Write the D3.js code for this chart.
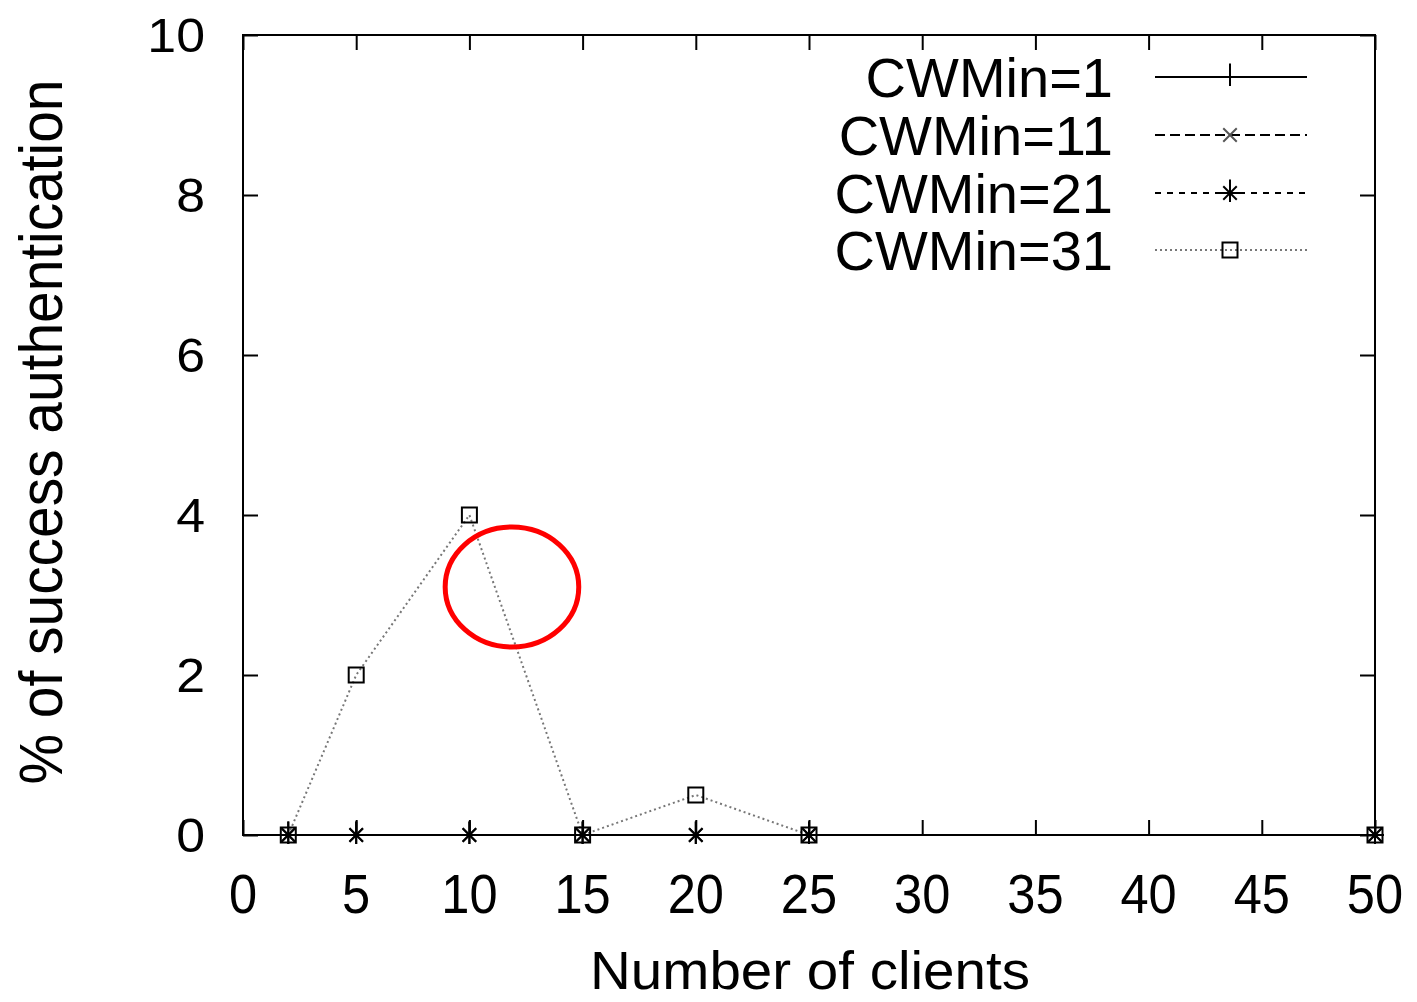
<!DOCTYPE html>
<html>
<head>
<meta charset="utf-8">
<script src="https://cdn.jsdelivr.net/npm/d3@7"></script>
<style>
  body { margin: 0; background: #fff; }
  text { font-family: "Liberation Sans", Arial, sans-serif; fill: #000; }
</style>
</head>
<body>
<script>
// data
var clients = [2, 5, 10, 15, 20, 25, 50];
var cw1  = [0, 0, 0, 0, 0, 0, 0];
var cw11 = [0, 0, 0, 0, 0, 0, 0];
var cw21 = [0, 0, 0, 0, 0, 0, 0];
var cw31 = [0, 2, 4, 0, 0.5, 0, 0];
var seriesNames = ["CWMin=1", "CWMin=11", "CWMin=21", "CWMin=31"];
var xTicks = [0, 5, 10, 15, 20, 25, 30, 35, 40, 45, 50];
var yTicks = [0, 2, 4, 6, 8, 10];

var outerWidth = 1417, outerHeight = 1002;
var margin = {top: 35, right: 42, bottom: 167, left: 243},
    width = outerWidth - margin.left - margin.right,
    height = outerHeight - margin.top - margin.bottom;

var x = d3.scaleLinear().domain([0, 50]).range([0, width]);
var y = d3.scaleLinear().domain([0, 10]).range([height, 0]);

var svg = d3.select("body").append("svg")
    .attr("width", outerWidth)
    .attr("height", outerHeight)
    .append("g")
    .attr("transform", "translate(" + margin.left + "," + margin.top + ")");

var tickLen = 15;

// inward ticks, mirrored on top and right
svg.append("g").call(d3.axisBottom(x).tickValues(xTicks).tickSize(-tickLen).tickFormat(""))
    .attr("transform", "translate(0," + height + ")");
svg.append("g").call(d3.axisTop(x).tickValues(xTicks).tickSize(-tickLen).tickFormat(""));
svg.append("g").call(d3.axisLeft(y).tickValues(yTicks).tickSize(-tickLen).tickFormat(""));
svg.append("g").call(d3.axisRight(y).tickValues(yTicks).tickSize(-tickLen).tickFormat(""))
    .attr("transform", "translate(" + width + ",0)");
svg.selectAll(".domain").remove();
svg.selectAll(".tick line").attr("stroke", "#000").attr("stroke-width", 2);

// tick labels
svg.selectAll(".xlab").data(xTicks).enter().append("text")
    .attr("x", function(d) { return x(d); })
    .attr("y", height + 78)
    .attr("text-anchor", "middle")
    .attr("font-size", "55px")
    .attr("transform", function(d) { return "translate(" + x(d) + ",0) scale(0.92,1) translate(" + (-x(d)) + ",0)"; })
    .text(function(d) { return d; });

svg.selectAll(".ylab").data(yTicks).enter().append("text")
    .attr("x", -38)
    .attr("y", function(d) { return y(d) + 17; })
    .attr("text-anchor", "end")
    .attr("font-size", "48px")
    .attr("transform", "translate(-38,0) scale(1.08,1) translate(38,0)")
    .text(function(d) { return d; });

// axis titles
svg.append("text")
    .attr("x", 567)
    .attr("y", height + 154)
    .attr("text-anchor", "middle")
    .attr("font-size", "54px")
    .attr("textLength", 440)
    .attr("lengthAdjust", "spacingAndGlyphs")
    .text("Number of clients");

svg.append("text")
    .attr("transform", "rotate(-90)")
    .attr("x", -(432 - margin.top))
    .attr("y", 62 - margin.left)
    .attr("text-anchor", "middle")
    .attr("font-size", "62px")
    .attr("textLength", 705)
    .attr("lengthAdjust", "spacingAndGlyphs")
    .text("% of success authentication");

// series
var series = [
    {name: seriesNames[0], values: cw1,  dash: null,    color: "#000", marker: "plus"},
    {name: seriesNames[1], values: cw11, dash: "10,5",  color: "#000", marker: "cross"},
    {name: seriesNames[2], values: cw21, dash: "6,6",   color: "#000", marker: "star"},
    {name: seriesNames[3], values: cw31, dash: "2,3",   color: "#777", marker: "square"}
];

var line = d3.line()
    .x(function(d) { return x(d[0]); })
    .y(function(d) { return y(d[1]); });

function drawMarker(g, type, cx, cy, color) {
    var s = 9;
    if (type == "plus" || type == "star") {
        g.append("line").attr("x1", cx - s).attr("x2", cx + s).attr("y1", cy).attr("y2", cy);
        g.append("line").attr("x1", cx).attr("x2", cx).attr("y1", cy - s * 1.5).attr("y2", cy + s);
    }
    if (type == "cross" || type == "star") {
        g.append("line").attr("x1", cx - s * 0.75).attr("x2", cx + s * 0.75).attr("y1", cy - s * 0.75).attr("y2", cy + s * 0.75);
        g.append("line").attr("x1", cx - s * 0.75).attr("x2", cx + s * 0.75).attr("y1", cy + s * 0.75).attr("y2", cy - s * 0.75);
    }
    if (type == "square") {
        g.append("rect").attr("x", cx - 7.5).attr("y", cy - 7.5).attr("width", 15).attr("height", 15)
            .attr("fill", "none");
    }
    g.selectAll("line, rect").attr("stroke", color).attr("stroke-width", 2);
}

series.forEach(function(s) {
    var pts = clients.map(function(c, i) { return [c, s.values[i]]; });
    svg.append("path")
        .datum(pts)
        .attr("d", line)
        .attr("fill", "none")
        .attr("stroke", s.color)
        .attr("stroke-width", 2)
        .attr("stroke-dasharray", s.dash);
});

series.forEach(function(s) {
    clients.forEach(function(c, i) {
        var g = svg.append("g");
        drawMarker(g, s.marker, x(c), y(s.values[i]), s.marker == "cross" ? "#333" : "#000");
    });
});

// frame
svg.append("rect")
    .attr("width", width).attr("height", height)
    .attr("fill", "none").attr("stroke", "#000").attr("stroke-width", 2);

// legend
var legY = [42, 100, 158, 215];
series.forEach(function(s, i) {
    svg.append("text")
        .attr("x", 870)
        .attr("y", legY[i] + 20)
        .attr("text-anchor", "end")
        .attr("font-size", "56px")
        .text(s.name);
    svg.append("line")
        .attr("x1", 912).attr("x2", 1064)
        .attr("y1", legY[i]).attr("y2", legY[i])
        .attr("stroke", s.color).attr("stroke-width", 2)
        .attr("stroke-dasharray", s.dash);
    var g = svg.append("g");
    drawMarker(g, s.marker, 987, legY[i], s.marker == "cross" ? "#555" : "#000");
});

// red annotation ellipse
svg.append("ellipse")
    .attr("cx", x(11.88))
    .attr("cy", y(3.1))
    .attr("rx", x(2.95) - x(0))
    .attr("ry", y(0) - y(0.75))
    .attr("fill", "none")
    .attr("stroke", "#f00")
    .attr("stroke-width", 5);
</script>
</body>
</html>
